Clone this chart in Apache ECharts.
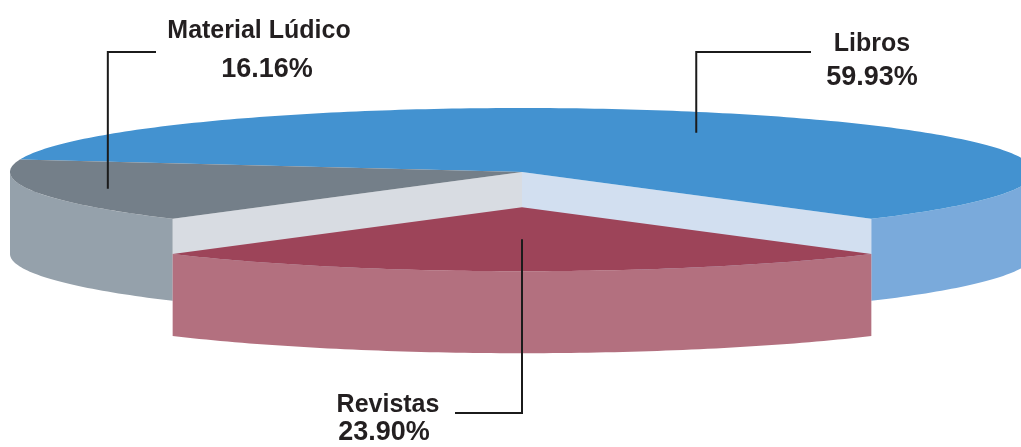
<!DOCTYPE html>
<html>
<head>
<meta charset="utf-8">
<script src="https://cdn.jsdelivr.net/npm/echarts@6/dist/echarts.min.js"></script>
<style>
html, body { margin: 0; padding: 0; background: #fff; }
#main { width: 1021px; height: 447px; }
</style>
</head>
<body>
<div id="main"></div>
<script>
var categories = ['Libros', 'Revistas', 'Material Lúdico'];
var values = [59.93, 23.90, 16.16];

var colors = ['#4392d0', '#9d4459', '#747f89'];     // top faces
var wallColors = ['#7aaadb', '#b3707f', '#95a1ab']; // outer walls
var faceColors = ['#d2dff0', '#ecd3d9', '#d8dce2']; // cut faces
var explode = [0, 0.55, 0];

// label layout: name line, percent line, start of the leader line
var namePos = [[872, 44], [388, 405], [259, 31]];
var pctPos = [[872, 78], [384, 433], [267, 70]];
var leaderStart = [[811, 52], [455, 413], [156, 52]];
var anchorR = [0.7, 0.5, 0.85];

// the flattened pie
var cx = 522, cy = 172, rx = 512, ry = 64, depth = 82;

var total = values.reduce(function (a, b) { return a + b; }, 0);
// Revistas centred at the front, slices run clockwise
var startAngle = -90 + (values[0] + values[1] / 2) / total * 360;

var slices = [];
var acc = startAngle;
values.forEach(function (v, i) {
    var hi = acc, lo = acc - v / total * 360;
    acc = lo;
    var mid = (lo + hi) / 2;
    var m = mid * Math.PI / 180;
    slices.push({
        lo: lo, hi: hi, mid: mid,
        ox: explode[i] * rx * Math.cos(m),
        oy: -explode[i] * ry * Math.sin(m)
    });
});

function pt(s, deg, r, dy) {
    var t = deg * Math.PI / 180;
    return [cx + s.ox + r * rx * Math.cos(t), cy + s.oy - r * ry * Math.sin(t) + (dy || 0)];
}

function arc(s, from, to, dy) {
    var n = Math.max(2, Math.ceil(Math.abs(to - from)));
    var pts = [];
    for (var k = 0; k <= n; k++) {
        pts.push(pt(s, from + (to - from) * k / n, 1, dy));
    }
    return pts;
}

// draw order: back slices first
var order = slices.map(function (s, i) { return i; }).sort(function (a, b) {
    return Math.sin(slices[b].mid * Math.PI / 180) - Math.sin(slices[a].mid * Math.PI / 180);
});
var rank = [];
order.forEach(function (idx, k) { rank[idx] = k; });

function renderItem(params, api) {
    var i = params.dataIndex;
    var s = slices[i];
    var base = rank[i] * 10;
    var n = slices.length;
    var children = [];
    var apex = pt(s, 0, 0, 0);
    var apexLow = pt(s, 0, 0, depth);

    // cut faces, only where the slice is pulled out from its neighbour
    var prev = (i + n - 1) % n, next = (i + 1) % n;
    var cutLo = Math.cos(s.lo * Math.PI / 180) > 0 && (explode[i] || explode[next]);
    var cutHi = Math.cos(s.hi * Math.PI / 180) < 0 && (explode[i] || explode[prev]);
    [[cutLo, s.lo], [cutHi, s.hi]].forEach(function (c) {
        if (!c[0]) return;
        var p = pt(s, c[1], 1, 0), q = pt(s, c[1], 1, depth);
        children.push({
            type: 'polygon', z2: base + 1,
            shape: { points: [apex, p, q, apexLow] },
            style: { fill: faceColors[i] }
        });
    });

    // outer wall, front half only
    for (var k = -1; k <= 1; k++) {
        var a = Math.max(s.lo, -180 + 360 * k), b = Math.min(s.hi, 360 * k);
        if (b > a) {
            children.push({
                type: 'polygon', z2: base + 2,
                shape: { points: arc(s, a, b, 0).concat(arc(s, b, a, depth)) },
                style: { fill: wallColors[i] }
            });
        }
    }

    // top
    children.push({
        type: 'polygon', z2: base + 3,
        shape: { points: [apex].concat(arc(s, s.lo, s.hi, 0)) },
        style: { fill: colors[i] }
    });

    // leader line and label
    var anchor = pt(s, s.mid, anchorR[i], 0);
    var st = leaderStart[i];
    children.push({
        type: 'polyline', z2: 100,
        shape: { points: [st, [anchor[0], st[1]], anchor] },
        style: { stroke: '#1b1b1b', lineWidth: 2, fill: null }
    });
    children.push({
        type: 'text', z2: 101, x: namePos[i][0], y: namePos[i][1],
        style: {
            text: categories[i], fill: '#231f20', align: 'center', verticalAlign: 'middle',
            font: 'bold 25px "Liberation Sans", Arial, sans-serif'
        }
    });
    children.push({
        type: 'text', z2: 101, x: pctPos[i][0], y: pctPos[i][1],
        style: {
            text: values[i].toFixed(2) + '%', fill: '#231f20', align: 'center', verticalAlign: 'middle',
            font: 'bold 27px "Liberation Sans", Arial, sans-serif'
        }
    });

    return { type: 'group', children: children };
}

var myChart = echarts.init(document.getElementById('main'));
var option = {
    animation: false,
    backgroundColor: '#ffffff',
    series: [{
        type: 'custom',
        coordinateSystem: 'none',
        silent: true,
        renderItem: renderItem,
        data: values.map(function (v, i) { return { name: categories[i], value: v }; })
    }]
};
myChart.setOption(option);
</script>
</body>
</html>
